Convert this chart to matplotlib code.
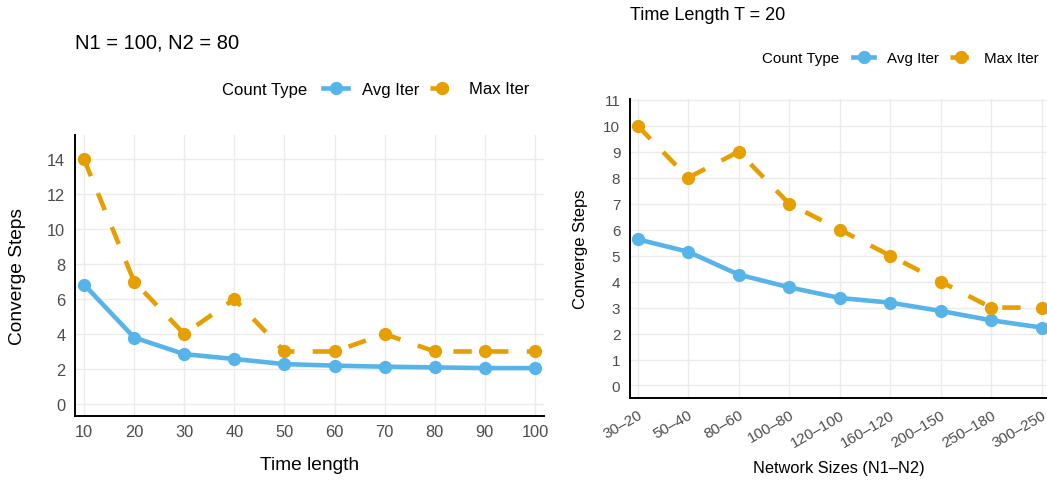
import matplotlib
matplotlib.use("Agg")
import matplotlib.pyplot as plt
from matplotlib.lines import Line2D

plt.rcParams['font.family'] = ['Liberation Sans', 'DejaVu Sans']

# ---- data ----
time_length = [10, 20, 30, 40, 50, 60, 70, 80, 90, 100]
left_avg = [6.83, 3.80, 2.85, 2.57, 2.28, 2.19, 2.13, 2.09, 2.05, 2.05]
left_max = [14, 7, 4, 6, 3, 3, 4, 3, 3, 3]

network_sizes = ["30–20", "50–40", "80–60", "100–80", "120–100",
                 "160–120", "200–150", "250–180", "300–250"]
right_avg = [5.63, 5.15, 4.27, 3.78, 3.37, 3.19, 2.87, 2.51, 2.23]
right_max = [10, 8, 9, 7, 6, 5, 4, 3, 3]

left_yticks = [0, 2, 4, 6, 8, 10, 12, 14]
right_yticks = list(range(0, 12))

series_names = ["Avg Iter", "Max Iter"]
col_avg = "#56B4E9"
col_max = "#E69F00"

W, H = 1047, 481
fig = plt.figure(figsize=(W / 100, H / 100), dpi=100)

def fx(px):
    return px / W

def fy(py):
    return 1 - py / H

LW = 3.3
MS = 8.5
DASH = (0, (4, 4))
GRID = "#EBEBEB"
TICKC = "#4D4D4D"

def style(ax, fs_tick, xpad, ypad):
    for s in ["top", "right"]:
        ax.spines[s].set_visible(False)
    for s in ["left", "bottom"]:
        ax.spines[s].set_color("black")
        ax.spines[s].set_linewidth(1.4)
    ax.grid(True, color=GRID, linewidth=1.0)
    ax.set_axisbelow(True)
    ax.tick_params(axis="both", length=0, labelsize=fs_tick, labelcolor=TICKC)
    ax.tick_params(axis="x", pad=xpad)
    ax.tick_params(axis="y", pad=ypad)

# ---- left panel ----
axL = fig.add_axes([fx(75), fy(417), fx(544) - fx(75), fy(135.7) - fy(417)])
axL.plot(time_length, left_avg, color=col_avg, lw=LW, marker="o", ms=MS,
         solid_capstyle="butt", zorder=3)
axL.plot(time_length, left_max, color=col_max, lw=LW, marker="o", ms=MS,
         linestyle=DASH, zorder=3)
axL.set_xlim(8.2, 101.8)
axL.set_ylim(-0.69, 15.4)
axL.set_xticks(time_length)
axL.set_yticks(left_yticks)
style(axL, 11.8, 5.5, 7)

fig.text(fx(75), fy(43), "N1 = 100, N2 = 80", fontsize=14.5, ha="left", va="center")
fig.text(fx(309.5), fy(466), "Time length", fontsize=13.8, ha="center", va="center")
fig.text(fx(18), (fy(417) + fy(135.7)) / 2, "Converge Steps", fontsize=13.8,
         rotation=90, ha="center", va="center")

def make_handles():
    return [Line2D([], [], color=col_avg, lw=LW, marker="o", ms=MS),
            Line2D([], [], color=col_max, lw=LW, marker="o", ms=MS, linestyle=DASH)]

fig.text(fx(222), fy(90), "Count Type", fontsize=12, ha="left", va="center")
fig.legend(make_handles(), series_names, loc="center left",
           bbox_to_anchor=(fx(323), fy(90)), ncol=2, frameon=False,
           fontsize=12, handlelength=1.5, handletextpad=0.85,
           columnspacing=0.6, borderpad=0, borderaxespad=0, numpoints=1)

# ---- right panel ----
axR = fig.add_axes([fx(630), fy(398.7), fx(1047) - fx(630), fy(100) - fy(398.7)])
xr = list(range(len(network_sizes)))
axR.plot(xr, right_avg, color=col_avg, lw=LW, marker="o", ms=MS, zorder=3)
axR.plot(xr, right_max, color=col_max, lw=LW, marker="o", ms=MS,
         linestyle=DASH, zorder=3)
axR.set_xlim(-0.15, 8.105)
axR.set_ylim(-0.47, 11.03)
axR.set_yticks(right_yticks)
axR.set_xticks(xr)
axR.set_xticklabels(network_sizes, rotation=30, ha="right", va="top",
                    rotation_mode="anchor")
style(axR, 11, 7, 7)

fig.text(fx(630), fy(16), "Time Length T = 20", fontsize=13, ha="left", va="center")
fig.text(fx(838.5), fy(469), "Network Sizes (N1–N2)", fontsize=11.8,
         ha="center", va="center")
fig.text(fx(580), (fy(398.7) + fy(100)) / 2, "Converge Steps", fontsize=12,
         rotation=90, ha="center", va="center")

fig.text(fx(762), fy(59), "Count Type", fontsize=10.9, ha="left", va="center")
fig.legend(make_handles(), series_names, loc="center left",
           bbox_to_anchor=(fx(853), fy(59)), ncol=2, frameon=False,
           fontsize=10.9, handlelength=1.4, handletextpad=0.86,
           columnspacing=0.73, borderpad=0, borderaxespad=0, numpoints=1)

fig.savefig("out.png", dpi=100)
